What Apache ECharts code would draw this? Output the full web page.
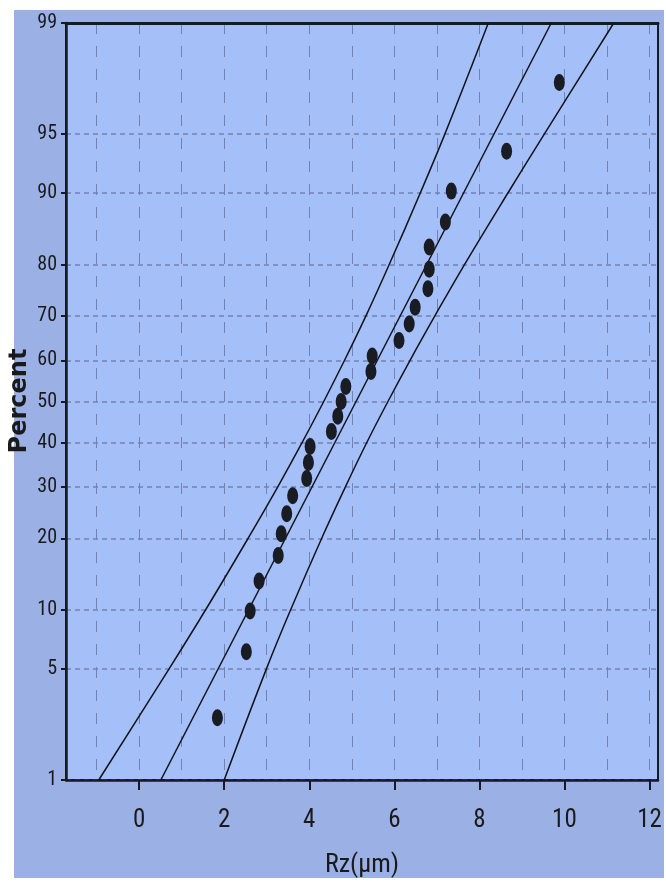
<!DOCTYPE html>
<html>
<head>
<meta charset="utf-8">
<script src="https://cdn.jsdelivr.net/npm/echarts@6/dist/echarts.min.js"></script>
<style>
html,body{margin:0;padding:0;background:#ffffff;}
#chart{width:666px;height:887px;}
</style>
</head>
<body>
<div id="chart"></div>
<script>
// ---- data ----
const rzValues = [1.84, 2.52, 2.61, 2.82, 3.27, 3.34, 3.47, 3.61, 3.94, 3.98, 4.02, 4.52, 4.67, 4.75,
                  4.86, 5.45, 5.48, 6.11, 6.35, 6.49, 6.79, 6.82, 6.82, 7.20, 7.34, 8.64, 9.88];
const pointPercent = [2.6, 6.2, 9.9, 13.5, 17.2, 20.8, 24.5, 28.1, 31.8, 35.4, 39.1, 42.7, 46.4, 50.0,
                      53.7, 57.3, 61.0, 64.6, 68.3, 71.9, 75.6, 79.2, 82.9, 86.5, 90.2, 93.8, 97.5];
const fitPercent = [1, 99];
const fitRz = [0.51, 9.69];
const bandPercent = [1, 5, 10, 20, 30, 40, 50, 60, 70, 80, 90, 95, 99];
const lowerRz = [-0.95, 0.70, 1.56, 2.56, 3.26, 3.83, 4.34, 4.83, 5.33, 5.88, 6.61, 7.19, 8.21];
const upperRz = [2.00, 2.99, 3.56, 4.29, 4.85, 5.35, 5.85, 6.37, 6.95, 7.65, 8.67, 9.53, 11.16];
const yTickPercent = [1, 5, 10, 20, 30, 40, 50, 60, 70, 80, 90, 95, 99];
const xTickLabels = [0, 2, 4, 6, 8, 10, 12];
const xGridValues = [-1, 0, 1, 2, 3, 4, 5, 6, 7, 8, 9, 10, 11, 12];
const yTitle = 'Percent';
const xTitle = 'Rz(µm)';

// ---- probability (normal) scale transform ----
function probit(pct) {
  const p = pct / 100;
  const a = [-3.969683028665376e+01, 2.209460984245205e+02, -2.759285104469687e+02, 1.383577518672690e+02, -3.066479806614716e+01, 2.506628277459239e+00];
  const b = [-5.447609879822406e+01, 1.615858368580409e+02, -1.556989798598866e+02, 6.680131188771972e+01, -1.328068155288572e+01];
  const c = [-7.784894002430293e-03, -3.223964580411365e-01, -2.400758277161838e+00, -2.549732539343734e+00, 4.374664141464968e+00, 2.938163982698783e+00];
  const d = [7.784695709041462e-03, 3.224671290700398e-01, 2.445134137142996e+00, 3.754408661907416e+00];
  const pl = 0.02425, ph = 1 - pl;
  let q, r;
  if (p < pl) {
    q = Math.sqrt(-2 * Math.log(p));
    return (((((c[0]*q+c[1])*q+c[2])*q+c[3])*q+c[4])*q+c[5]) / ((((d[0]*q+d[1])*q+d[2])*q+d[3])*q+1);
  } else if (p <= ph) {
    q = p - 0.5; r = q * q;
    return (((((a[0]*r+a[1])*r+a[2])*r+a[3])*r+a[4])*r+a[5])*q / (((((b[0]*r+b[1])*r+b[2])*r+b[3])*r+b[4])*r+1);
  } else {
    q = Math.sqrt(-2 * Math.log(1 - p));
    return -(((((c[0]*q+c[1])*q+c[2])*q+c[3])*q+c[4])*q+c[5]) / ((((d[0]*q+d[1])*q+d[2])*q+d[3])*q+1);
  }
}
const yTickZ = yTickPercent.map(probit);
const zMin = probit(1), zMax = probit(99);
function labelFor(z) {
  let best = yTickPercent[0], bd = 1e9;
  yTickZ.forEach((tz, i) => { const dd = Math.abs(tz - z); if (dd < bd) { bd = dd; best = yTickPercent[i]; } });
  return String(best);
}

const FONT = "'Roboto Condensed', 'Liberation Sans Narrow', 'DejaVu Sans Condensed', 'DejaVu Sans', sans-serif";
const DARK = '#161a24';
const chart = echarts.init(document.getElementById('chart'), null, {renderer: 'canvas'});
const option = {
  animation: false,
  backgroundColor: '#ffffff',
  graphic: [
    {type: 'rect', left: 14, top: 10, shape: {width: 650, height: 868}, style: {fill: '#9bb1e6'}, z: -10},
    {type: 'text', x: 20, y: 401, rotation: Math.PI / 2, z: 10,
     style: {text: yTitle, font: "bold 24px 'DejaVu Sans', sans-serif", fill: '#1a1a1a',
             align: 'center', verticalAlign: 'middle'}}
  ],
  grid: {left: 66, right: 8, top: 23, bottom: 107, containLabel: false, outerBoundsMode: 'none',
         show: true, backgroundColor: '#a5bff8', borderColor: DARK, borderWidth: 2},
  xAxis: [
    {type: 'value', min: -1.72, max: 12.2, position: 'bottom',
     name: xTitle, nameLocation: 'middle', nameGap: 72,
     nameTextStyle: {fontFamily: FONT, fontSize: 26, color: '#1a1a1a'},
     axisLine: {show: true, onZero: false, lineStyle: {color: DARK, width: 2.5}},
     axisTick: {show: true, length: 10, inside: false, customValues: xTickLabels, lineStyle: {color: DARK, width: 2}},
     axisLabel: {show: true, customValues: xTickLabels, margin: 28, fontFamily: FONT, fontSize: 25, color: '#1a1a1a'},
     splitLine: {show: false}},
    {type: 'value', min: -1.72, max: 12.2, position: 'top',
     axisLine: {show: true, onZero: false, lineStyle: {color: DARK, width: 3}}, axisLabel: {show: false},
     axisTick: {show: false, customValues: xGridValues},
     splitLine: {show: true, lineStyle: {color: '#7283b3', width: 1, type: [11, 12]}}}
  ],
  yAxis: {
    type: 'value', min: zMin, max: zMax,
    axisLine: {show: true, onZero: false, lineStyle: {color: DARK, width: 2.5}},
    axisTick: {show: true, length: 5, customValues: yTickZ, lineStyle: {color: DARK, width: 2}},
    axisLabel: {show: true, customValues: yTickZ, margin: 9, formatter: (v) => labelFor(v),
                fontFamily: FONT, fontSize: 20, color: '#1a1a1a'},
    splitLine: {show: true, lineStyle: {color: '#7283b3', width: 1.5, type: [5, 4]}}
  },
  series: [
    {type: 'line', name: 'lower', data: lowerRz.map((x, i) => [x, probit(bandPercent[i])]),
     smooth: 0.4, symbol: 'none', lineStyle: {color: '#10131c', width: 1.5}, z: 3},
    {type: 'line', name: 'upper', data: upperRz.map((x, i) => [x, probit(bandPercent[i])]),
     smooth: 0.4, symbol: 'none', lineStyle: {color: '#10131c', width: 1.5}, z: 3},
    {type: 'line', name: 'fit', data: fitRz.map((x, i) => [x, probit(fitPercent[i])]),
     symbol: 'none', lineStyle: {color: '#10131c', width: 1.5}, z: 3},
    {type: 'scatter', name: 'Rz', data: rzValues.map((x, i) => [x, probit(pointPercent[i])]),
     symbol: 'circle', symbolSize: [11, 17], itemStyle: {color: '#1a1c24', opacity: 1}, z: 4}
  ]
};
chart.setOption(option);
</script>
</body>
</html>
